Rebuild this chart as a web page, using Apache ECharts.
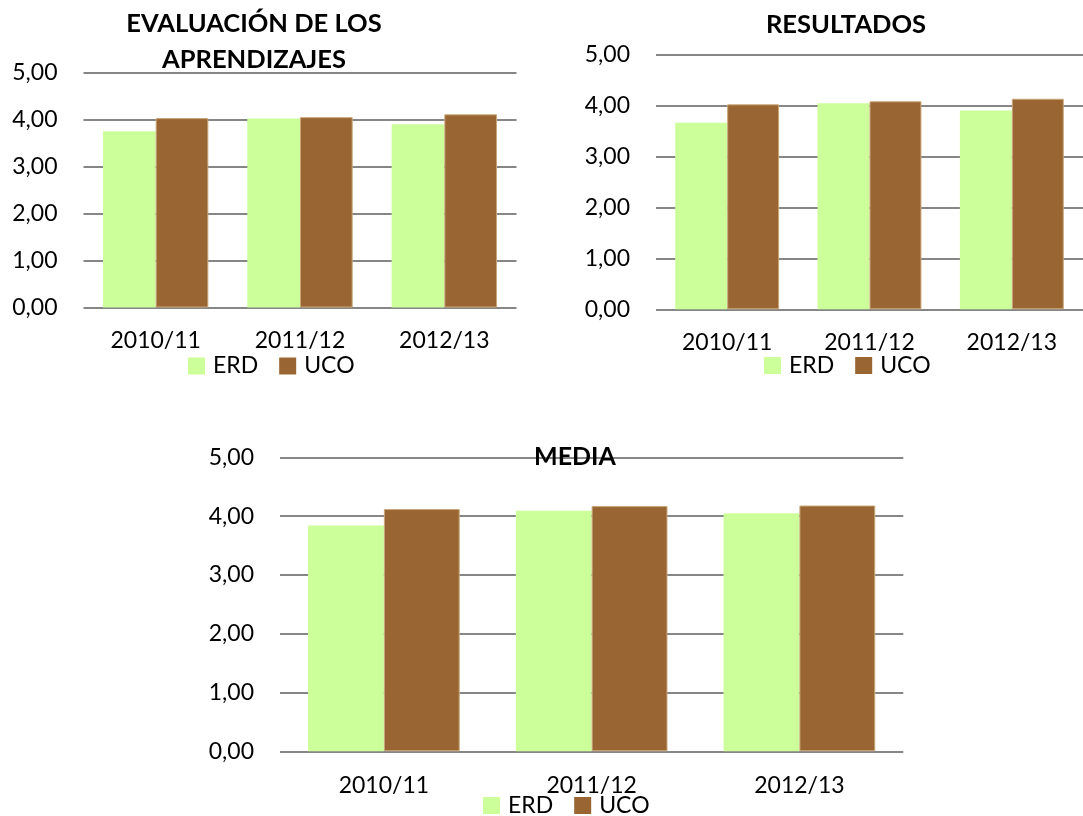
<!DOCTYPE html>
<html>
<head>
<meta charset="utf-8">
<script src="https://cdn.jsdelivr.net/npm/echarts@6/dist/echarts.min.js"></script>
<style>
html,body{margin:0;padding:0;background:#fff;}
#c{width:1083px;height:816px;}
</style>
</head>
<body>
<div id="c"></div>
<script>
// ---- data ----
var categories = ['2010/11', '2011/12', '2012/13'];
var seriesNames = ['ERD', 'UCO'];
var yTicks = [0, 1, 2, 3, 4, 5];

var chartTitles = ['EVALUACIÓN DE LOS\nAPRENDIZAJES', 'RESULTADOS', 'MEDIA'];

var evalERD = [3.75, 4.02, 3.90];
var evalUCO = [4.03, 4.05, 4.11];

var resERD = [3.67, 4.05, 3.91];
var resUCO = [4.03, 4.09, 4.14];

var mediaERD = [3.84, 4.09, 4.05];
var mediaUCO = [4.12, 4.17, 4.18];

var chartData = [[evalERD, evalUCO], [resERD, resUCO], [mediaERD, mediaUCO]];

// ---- layout / style ----
var FONT = 'Lato';
var colors = ['#CCFF99', '#996633'];
var grids = [
  {left: 83.5, top: 72.5, width: 433, height: 235},
  {left: 656, top: 55, width: 435, height: 254.3},
  {left: 280, top: 457.3, width: 623.3, height: 294}
];
var titlePos = [
  {left: 254, top: 5.3},
  {left: 846, top: 7},
  {left: 575, top: 439}
];
var titleSize = [25.5, 25.5, 25];
var xLabelMargin = [22, 22, 23];
var legendPos = [
  {left: 188, top: 354.5},
  {left: 764, top: 354},
  {left: 483, top: 794}
];

var option = {
  animation: false,
  backgroundColor: '#ffffff',
  title: [], legend: [], grid: [], xAxis: [], yAxis: [], series: []
};

for (var i = 0; i < 3; i++) {
  option.title.push({
    text: chartTitles[i],
    left: titlePos[i].left,
    top: titlePos[i].top,
    textAlign: 'center',
    padding: 0,
    z: 10,
    textStyle: {fontFamily: FONT, fontWeight: 'bold', fontSize: titleSize[i], lineHeight: 36, color: '#000'}
  });
  option.grid.push(grids[i]);
  option.xAxis.push({
    type: 'category',
    gridIndex: i,
    data: categories,
    axisLine: {show: false},
    axisTick: {show: false},
    axisLabel: {interval: 0, margin: xLabelMargin[i], fontFamily: FONT, fontSize: 23, color: '#000'}
  });
  option.yAxis.push({
    type: 'value',
    gridIndex: i,
    min: yTicks[0],
    max: yTicks[yTicks.length - 1],
    interval: 1,
    axisLine: {show: false},
    axisTick: {show: false},
    splitLine: {show: true, lineStyle: {color: '#868686', width: 2}},
    axisLabel: {
      margin: 26, fontFamily: FONT, fontSize: 23, color: '#000',
      formatter: function (v) { return v.toFixed(2).replace('.', ','); }
    }
  });
  option.legend.push({
    data: seriesNames,
    left: legendPos[i].left,
    top: legendPos[i].top,
    orient: 'horizontal',
    padding: 0,
    itemWidth: 17,
    itemHeight: 17,
    itemGap: 21,
    icon: 'rect',
    selectedMode: false,
    itemStyle: {borderWidth: 0},
    textStyle: {fontFamily: FONT, fontSize: 23, color: '#000', padding: [0, 0, 0, 3]}
  });
  for (var s = 0; s < 2; s++) {
    option.series.push({
      name: seriesNames[s],
      type: 'bar',
      xAxisIndex: i,
      yAxisIndex: i,
      data: chartData[i][s],
      barGap: 0,
      barCategoryGap: '27%',
      itemStyle: s === 1
        ? {color: colors[s], borderColor: '#c9a679', borderWidth: 1}
        : {color: colors[s]}
    });
  }
}

var chart = echarts.init(document.getElementById('c'), null, {renderer: 'canvas'});
chart.setOption(option);
</script>
</body>
</html>
